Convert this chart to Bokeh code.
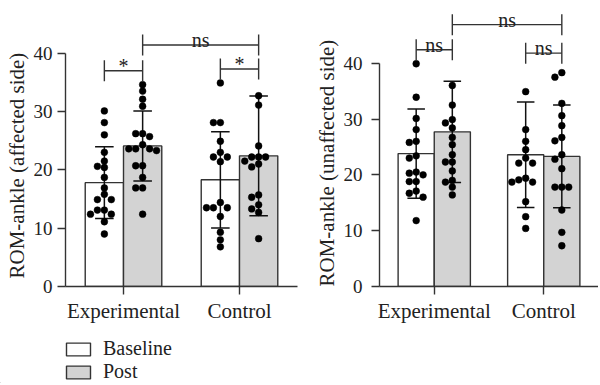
from bokeh.plotting import figure
from bokeh.layouts import row, column
from bokeh.models import FixedTicker, Legend, LegendItem, Range1d, Title
from bokeh.embed import file_html
from bokeh.resources import INLINE
from bokeh.core.properties import value

# ---------------- data ----------------
groups = ["Experimental", "Control"]
conditions = ["Baseline", "Post"]

# order: Experimental-Baseline, Experimental-Post, Control-Baseline, Control-Post
left_means = [17.8, 24.1, 18.3, 22.4]
left_sd = [6.15, 6.0, 8.25, 10.25]
left_exp_base = [30.1, 28.1, 26.0, 23.0, 21.5, 20.4, 20.6, 18.7, 16.9, 15.8, 14.9, 14.9, 13.1, 13.1, 12.4, 12.4, 11.1, 9.0]
left_exp_post = [34.6, 33.5, 32.1, 30.9, 26.2, 26.2, 25.7, 24.3, 23.6, 23.6, 23.6, 23.3, 20.7, 20.7, 18.7, 16.9, 16.9, 12.4]
left_ctl_base = [34.9, 28.1, 28.1, 24.9, 23.0, 22.2, 22.2, 21.4, 14.4, 13.5, 13.5, 13.5, 12.0, 9.3, 8.0, 6.8]
left_ctl_post = [32.7, 31.1, 24.1, 22.2, 22.2, 22.2, 21.5, 21.0, 20.5, 15.7, 15.3, 14.0, 13.3, 12.7, 8.2]
# brackets: (from bar index, to bar index, height, label)
left_brackets = [(0, 1, 37.0, "*"), (2, 3, 37.3, "*"), (1, 3, 41.4, "ns")]

right_means = [23.8, 27.7, 23.6, 23.3]
right_sd = [8.0, 9.05, 9.45, 9.2]
right_exp_base = [39.9, 33.9, 30.1, 28.1, 26.0, 25.8, 23.4, 23.0, 20.5, 20.3, 20.0, 18.8, 18.8, 17.1, 16.7, 16.0, 11.8]
right_exp_post = [36.0, 32.5, 29.9, 29.3, 28.4, 26.7, 25.4, 23.6, 22.3, 22.3, 20.7, 19.0, 18.7, 17.8, 16.4]
right_ctl_base = [34.9, 28.1, 26.0, 24.5, 23.0, 22.1, 22.1, 19.4, 19.1, 18.7, 18.7, 15.2, 12.5, 10.4]
right_ctl_post = [38.3, 37.5, 32.8, 30.6, 28.8, 26.7, 26.1, 23.6, 22.8, 21.1, 17.8, 17.8, 17.8, 13.7, 9.7, 7.3]
right_brackets = [(0, 1, 42.4, "ns"), (2, 3, 41.8, "ns"), (1, 3, 46.9, "ns")]

y_ticks = [0, 10, 20, 30, 40]

# ---------------- style ----------------
FONT = "Liberation Serif"
INK = "#222222"
LINE = "#333333"
POST_FILL = "#d3d3d3"
FILLS = ["white", POST_FILL]
BAR_W = 0.33
H = 325
MB_TOP = 4
MB_BOTTOM = 39


def swarm(vals, ppx, ppy, step=7.0, gap=6.2):
    """column-stacking dot layout: a dot moves sideways only when it would overlap."""
    order = sorted(range(len(vals)), key=lambda i: -vals[i])
    placed = []
    offs = [0.0] * len(vals)
    cands = [0]
    for m in range(1, 12):
        cands += [-m, m]
    for i in order:
        y = vals[i] * ppy
        x = 0.0
        for c in cands:
            x = c * step
            if all(abs(x - a) >= step - 0.01 or abs(y - b) >= gap for a, b in placed):
                break
        placed.append((x, y))
        offs[i] = x / ppx
    return offs


def panel(means, sds, dot_sets, brackets, ylabel, width, mb_left, mb_right,
          x_end, y_end, tick_standoff, label_shift):
    p = figure(width=width, height=H, x_range=Range1d(0.5, x_end), y_range=Range1d(0, y_end),
               output_backend="svg", toolbar_location=None, title=None,
               min_border_left=mb_left, min_border_right=mb_right,
               min_border_top=MB_TOP, min_border_bottom=MB_BOTTOM)
    p.outline_line_color = None
    p.xgrid.visible = False
    p.ygrid.visible = False
    p.background_fill_color = "white"

    fw = width - mb_left - mb_right
    fh = H - MB_TOP - MB_BOTTOM
    ppx = fw / (x_end - 0.5)
    ppy = fh / y_end

    xs = []
    for gi in range(len(groups)):
        for ci in range(len(conditions)):
            xs.append(gi + 1 + (ci - 0.5) * BAR_W)

    for ci in range(len(conditions)):
        idx = [gi * 2 + ci for gi in range(len(groups))]
        p.vbar(x=[xs[i] for i in idx], top=[means[i] for i in idx], bottom=0, width=BAR_W,
               fill_color=FILLS[ci], line_color=LINE, line_width=1.4)

    # error bars (mean +/- SD)
    cap = 0.16
    lo = [m - s for m, s in zip(means, sds)]
    hi = [m + s for m, s in zip(means, sds)]
    p.segment(x0=xs, y0=lo, x1=xs, y1=hi, line_color="#111111", line_width=1.5)
    p.segment(x0=[x - cap / 2 for x in xs], y0=hi, x1=[x + cap / 2 for x in xs], y1=hi,
              line_color="#111111", line_width=1.5)
    p.segment(x0=[x - cap / 2 for x in xs], y0=lo, x1=[x + cap / 2 for x in xs], y1=lo,
              line_color="#111111", line_width=1.5)

    # individual points
    for i, vals in enumerate(dot_sets):
        offs = swarm(vals, ppx, ppy)
        p.scatter(x=[xs[i] + o for o in offs], y=vals, marker="circle", size=6.8,
                  fill_color="black", line_color="black", line_width=0.5)

    # significance brackets
    leg = 10.5 / ppy
    txt_off = 5.0 / ppy
    bx0, by0, bx1, by1 = [], [], [], []
    tx, ty, tt = [], [], []
    for a, b, h, lab in brackets:
        x1, x2 = xs[a], xs[b]
        bx0 += [x1, x1, x2]
        bx1 += [x2, x1, x2]
        by0 += [h, h - leg, h - leg]
        by1 += [h, h + leg, h + leg]
        tx.append((x1 + x2) / 2)
        ty.append(h + txt_off)
        tt.append(lab)
    p.segment(x0=bx0, y0=by0, x1=bx1, y1=by1, line_color=LINE, line_width=1.4)
    p.text(x=tx, y=ty, text=tt, text_font=value(FONT), text_font_size="20px",
           text_align="center", text_baseline="alphabetic", text_color=INK)

    # axes
    ya = p.yaxis[0]
    ya.bounds = (0, 40)
    ya.ticker = FixedTicker(ticks=y_ticks)
    ya.major_label_standoff = tick_standoff

    # y-axis title, starting from the bottom of the axis
    p.add_layout(Title(text=ylabel, align="left", offset=label_shift, standoff=4,
                       text_font=FONT, text_font_size="21px", text_font_style="normal",
                       text_color=INK), "left")

    xa = p.xaxis[0]
    xa.ticker = FixedTicker(ticks=[1, 2])
    xa.major_label_overrides = {1: groups[0], 2: groups[1]}
    xa.major_label_standoff = 4

    for ax in (xa, ya):
        ax.axis_line_color = LINE
        ax.axis_line_width = 1.4
        ax.major_tick_line_color = LINE
        ax.major_tick_line_width = 1.4
        ax.major_tick_out = 8
        ax.major_tick_in = 0
        ax.minor_tick_line_color = None
        ax.major_label_text_font = FONT
        ax.major_label_text_font_size = "19px"
        ax.major_label_text_color = INK
    xa.major_label_text_font_size = "21px"
    return p


p1 = panel(left_means, left_sd,
           [left_exp_base, left_exp_post, left_ctl_base, left_ctl_post],
           left_brackets, "ROM-ankle (affected side)",
           310, 63, 13, 2.5, (H - MB_TOP - MB_BOTTOM) / 5.833, 5, 8)
p2 = panel(right_means, right_sd,
           [right_exp_base, right_exp_post, right_ctl_base, right_ctl_post],
           right_brackets, "ROM-ankle (unaffected side)",
           288, 66, 0, 2.5, (H - MB_TOP - MB_BOTTOM) / 5.583, 9, 0)

# legend in its own small figure below the panels
pl = figure(width=250, height=58, x_range=Range1d(0, 1), y_range=Range1d(0, 1),
            output_backend="svg", toolbar_location=None, title=None,
            x_axis_type=None, y_axis_type=None,
            min_border_left=0, min_border_right=0, min_border_top=0, min_border_bottom=0)
pl.outline_line_color = None
pl.xgrid.visible = False
pl.ygrid.visible = False
leg_r = []
for ci in range(len(conditions)):
    # a bar lying wholly outside the visible ranges, used only as the legend's swatch
    leg_r.append(pl.vbar(x=[-5], top=[-5], bottom=-6, width=0.1, fill_color=FILLS[ci],
                         line_color=LINE, line_width=1.4))
legend = Legend(items=[LegendItem(label=conditions[ci], renderers=[leg_r[ci]])
                       for ci in range(len(conditions))],
                location=(63, 0), orientation="vertical",
                glyph_width=30, glyph_height=16, label_standoff=10, spacing=0,
                padding=0, margin=0, border_line_color=None, background_fill_alpha=0,
                label_text_font=FONT, label_text_font_size="20px", label_text_color=INK)
pl.add_layout(legend, "center")

layout = column(row(p1, p2), pl)
open("out.html", "w").write(file_html(layout, INLINE))
